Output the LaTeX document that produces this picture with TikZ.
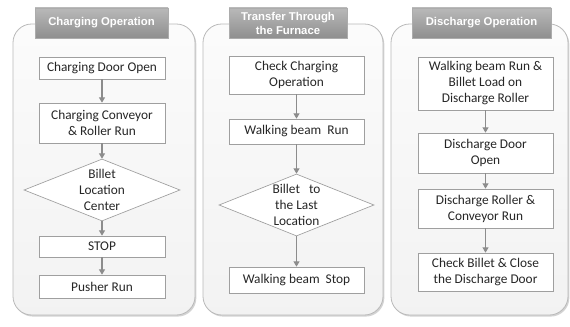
\documentclass[tikz,border=0pt]{standalone}
\usepackage{fontspec}
\setmainfont{Carlito}
\newfontfamily\headfont{Liberation Sans}
\usetikzlibrary{shapes.geometric,arrows.meta,shadows}

\begin{document}
\begin{tikzpicture}[x=0.75pt,y=-0.75pt,
  panel/.style={draw=gray!55,top color=white!97!gray,bottom color=gray!10,rounded corners=14pt,line width=0.6pt,
    drop shadow={shadow xshift=1pt,shadow yshift=-1.2pt,opacity=0.35}},
  header/.style={top color=gray!55,bottom color=gray!88,draw=gray!65,text=white,
    font=\headfont\bfseries\fontsize{8.5}{10.5}\selectfont,align=center,
    minimum height=22.5pt,inner sep=1pt,
    drop shadow={shadow xshift=0.8pt,shadow yshift=-1pt,opacity=0.3}},
  stepbox/.style={draw=gray!75,fill=white,line width=0.5pt,align=center,
    font=\fontsize{10}{12}\selectfont,text=black!85,inner sep=1pt},
  decision/.style={diamond,draw=gray!75,fill=white,line width=0.5pt,align=center,
    font=\fontsize{10}{12}\selectfont,text=black!85,aspect=2.5,inner sep=0pt},
  flow/.style={draw=gray!90,line width=0.8pt,-{Triangle[width=4.5pt,length=4pt]}}]
  \useasboundingbox (0,0) rectangle (570,327);
  % panels
  \draw[panel] (13,24) rectangle (195,315);
  \draw[panel] (203,24) rectangle (383,315);
  \draw[panel] (391,24) rectangle (568,315);
  % headers
  \node (hd1) at (101.5,23) [header,minimum width=99.75pt] {Charging Operation};
  \node (hd2) at (288,23)   [header,minimum width=88.5pt] {Transfer Through\\the Furnace};
  \node (hd3) at (481.5,23) [header,minimum width=104.25pt] {Discharge Operation};
  % charging
  \node (a1) at (102,68)    [stepbox,minimum width=94.5pt,minimum height=16.5pt] {Charging Door Open};
  \node (a2) at (102,123)   [stepbox,minimum width=94.5pt,minimum height=30pt] {Charging Conveyor\\\& Roller Run};
  \node (a3) at (102,190)   [decision,minimum width=117pt,minimum height=46.5pt] {Billet\\Location\\Center};
  \node (a4) at (102,246.5) [stepbox,minimum width=94.5pt,minimum height=15.75pt] {STOP};
  \node (a5) at (102,286.5) [stepbox,minimum width=94.5pt,minimum height=17.25pt] {Pusher Run};
  \draw[flow] (a1) -- (a2);
  \draw[flow] (a2) -- (a3);
  \draw[flow] (a3) -- (a4);
  \draw[flow] (a4) -- (a5);
  % transfer
  \node (b1) at (296.5,75)  [stepbox,minimum width=101.25pt,minimum height=28.5pt] {Check Charging\\Operation};
  \node (b2) at (296.5,131.5) [stepbox,minimum width=101.25pt,minimum height=18.75pt] {Walking beam~~Run};
  \node (b3) at (296.5,205) [decision,minimum width=116.25pt,minimum height=46.5pt] {Billet~~~to\\the Last\\Location};
  \node (b4) at (296.5,280) [stepbox,minimum width=101.25pt,minimum height=19.5pt] {Walking beam~~Stop};
  \draw[flow] (b1) -- (b2);
  \draw[flow] (b2) -- (b3);
  \draw[flow] (b3) -- (b4);
  % discharge
  \node (c1) at (485.5,83.5) [stepbox,minimum width=101.25pt,minimum height=39.75pt] {Walking beam Run \&\\Billet Load on\\Discharge Roller};
  \node (c2) at (485.5,153)  [stepbox,minimum width=101.25pt,minimum height=30pt] {Discharge Door\\Open};
  \node (c3) at (485.5,208.5) [stepbox,minimum width=101.25pt,minimum height=29.25pt] {Discharge Roller \&\\Conveyor Run};
  \node (c4) at (485.5,272)  [stepbox,minimum width=101.25pt,minimum height=28.5pt] {Check Billet \& Close\\the Discharge Door};
  \draw[flow] (c1) -- (c2);
  \draw[flow] (c2) -- (c3);
  \draw[flow] (c3) -- (c4);
\end{tikzpicture}
\end{document}
